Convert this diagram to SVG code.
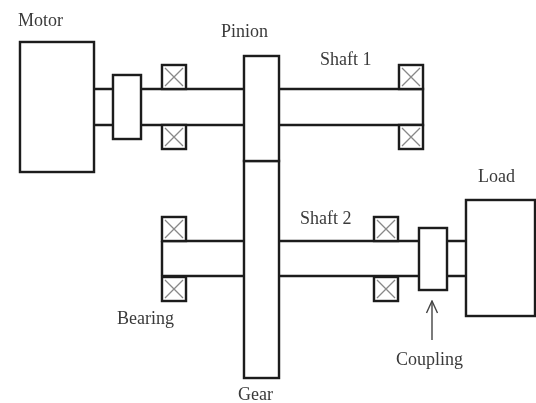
<svg xmlns="http://www.w3.org/2000/svg" width="536" height="403" viewBox="0 0 536 403">
<style>
.s{fill:#fff;stroke:#1c1c1c;stroke-width:2.4}
.l{fill:none;stroke:#1c1c1c;stroke-width:2.4}
.x{fill:none;stroke:#888;stroke-width:1.3}
text{font-family:"Liberation Serif","Times New Roman",serif;font-size:18px;fill:#3a3a3a}
</style>
<defs>
<filter id="b" x="-2%" y="-2%" width="104%" height="104%"><feGaussianBlur stdDeviation="0.55"/></filter>
<marker id="a" markerWidth="14" markerHeight="14" refX="13" refY="7" orient="auto" markerUnits="userSpaceOnUse"><path d="M1 1.5L13 7L1 12.5" fill="none" stroke="#444" stroke-width="1.4"/></marker>
<g id="bx"><rect class="s" width="24" height="24"/><path class="x" d="M3 3L21 21M21 3L3 21"/></g>
</defs>
<rect width="536" height="403" fill="#fff"/>
<g filter="url(#b)">
<g id="connectors">
<path class="l" d="M94 89H244M94 125H244M279 89H423V125H279M162 241H244M162 276H244M162 241V276M279 241H419M279 276H419M447 241H466M447 276H466"/>
<path d="M432 340V301" fill="none" stroke="#444" stroke-width="1.4" marker-end="url(#a)"/>
</g>
<g id="motor"><rect class="s" x="20" y="42" width="74" height="130"/><text x="18" y="26">Motor</text></g>
<g id="coupling1"><rect class="s" x="113" y="75" width="28" height="64"/></g>
<g id="bearing1"><use href="#bx" x="162" y="65"/></g>
<g id="bearing2"><use href="#bx" x="162" y="125"/></g>
<g id="bearing3"><use href="#bx" x="399" y="65"/></g>
<g id="bearing4"><use href="#bx" x="399" y="125"/></g>
<g id="bearing5"><use href="#bx" x="162" y="217"/></g>
<g id="bearing6"><use href="#bx" x="162" y="277"/></g>
<g id="bearing7"><use href="#bx" x="374" y="217"/></g>
<g id="bearing8"><use href="#bx" x="374" y="277"/></g>
<g id="gear"><rect class="s" x="244" y="161" width="35" height="217"/><text x="238" y="400">Gear</text></g>
<g id="pinion"><rect class="s" x="244" y="56" width="35" height="105"/><text x="221" y="37">Pinion</text></g>
<g id="coupling2"><rect class="s" x="419" y="228" width="28" height="62"/></g>
<g id="load"><rect class="s" x="466" y="200" width="69" height="116"/><text x="478" y="182">Load</text></g>
<text x="320" y="65">Shaft 1</text>
<text x="300" y="224">Shaft 2</text>
<text x="117" y="324">Bearing</text>
<text x="396" y="365">Coupling</text>
</g>
</svg>
